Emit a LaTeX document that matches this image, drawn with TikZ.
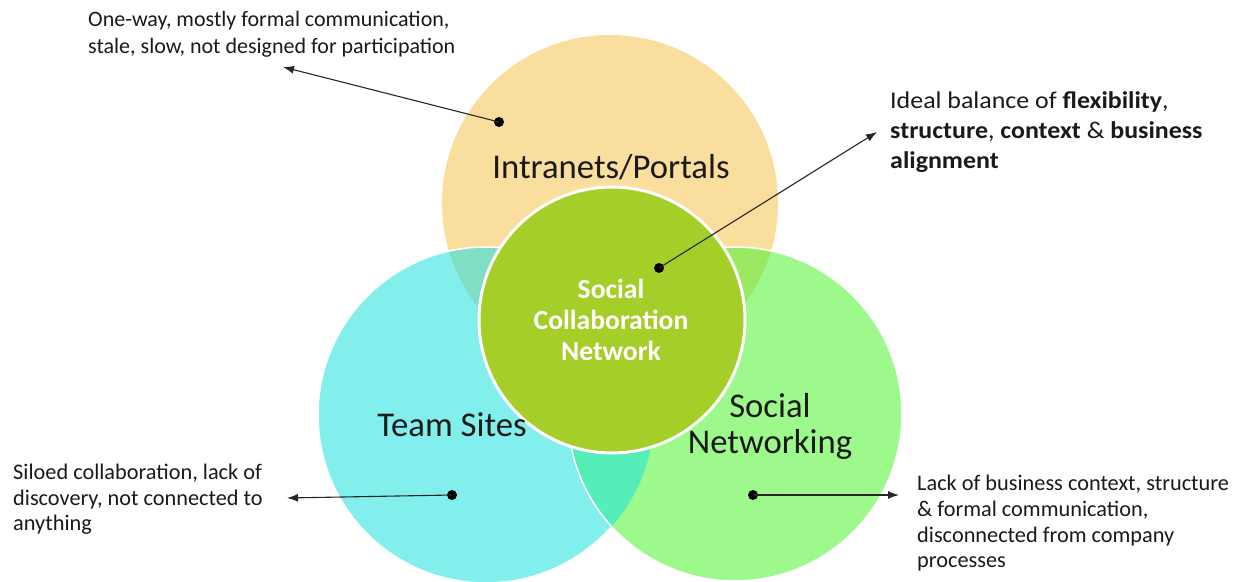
\documentclass[tikz,border=0pt]{standalone}
\usepackage{fontspec}
\setmainfont{Carlito}
\newfontfamily\widefont[FakeStretch=1.08]{Carlito}
\usetikzlibrary{arrows.meta}
\definecolor{orangec}{HTML}{FADE9E}
\definecolor{tealc}{HTML}{82EFEC}
\definecolor{greenc}{HTML}{9EF98D}
\definecolor{otc}{HTML}{7FDEC4}
\definecolor{ogc}{HTML}{9BE862}
\definecolor{tgc}{HTML}{55EDB8}
\definecolor{centerc}{HTML}{A6CE28}
\definecolor{txt}{HTML}{1A1A1A}
\begin{document}
\begin{tikzpicture}[x=1pt,y=-1pt,
  lbl/.style={anchor=north west, inner sep=0pt, align=left, text=txt},
  big/.style={inner sep=0pt, align=center, font=\fontsize{34.7}{36}\selectfont, text=txt},
  dot/.style={circle, fill=black, inner sep=0pt, minimum size=10pt},
  arr/.style={-{Latex[length=11pt,width=8pt]}, line width=1.1pt, draw=black!85},
  rim/.style={draw=white, line width=1.5pt}
]
\useasboundingbox (0,0) rectangle (1239,581);
\fill[white] (0,0) rectangle (1239,581);
% circles
\fill[orangec] (610,203) circle (168pt);
\fill[tealc] (486,415) circle (168pt);
\begin{scope}\clip (610,203) circle (168pt); \fill[otc] (486,415) circle (168pt); \end{scope}
\path[rim] (486,415) circle (168pt);
\fill[greenc] (735,414) circle (167pt);
\begin{scope}\clip (610,203) circle (168pt); \fill[ogc] (735,414) circle (167pt); \end{scope}
\begin{scope}\clip (486,415) circle (168pt); \fill[tgc] (735,414) circle (167pt); \end{scope}
\path[rim] (735,414) circle (167pt);
\fill[centerc, draw=white, line width=3pt] (612,320) circle (133pt);
% circle labels
\node[big] (ip) at (611,167) {Intranets/Portals};
\node[big] (ts) at (452,425) {Team Sites};
\node[big] (sn) at (770,426) {Social\\Networking};
\node[font=\bfseries\fontsize{27.6}{31}\selectfont, text=white, align=center, inner sep=0pt] (scn) at (611,320) {Social\\Collaboration\\Network};
% side labels
\node[lbl, font=\fontsize{22}{27.5}\selectfont] (l1) at (88,11) {One-way, mostly formal communication,\\stale, slow, not designed for participation};
\node[lbl, font=\widefont\fontsize{24}{30.3}\selectfont] (l2) at (890,91) {Ideal balance of \textbf{flexibility},\\\textbf{structure}, \textbf{context} \& \textbf{business}\\\textbf{alignment}};
\node[lbl, font=\fontsize{22.3}{25.5}\selectfont] (l3) at (13,464) {Siloed collaboration, lack of\\discovery, not connected to\\anything};
\node[lbl, font=\fontsize{22.3}{25.7}\selectfont] (l4) at (917,475) {Lack of business context, structure\\\& formal communication,\\disconnected from company\\processes};
% dots and arrows
\node[dot] (d1) at (499,122) {};
\node[dot] (d2) at (659,268) {};
\node[dot] (d3) at (452,495) {};
\node[dot] (d4) at (753,495) {};
\coordinate (t1) at (283,67);
\coordinate (t2) at (877,132);
\coordinate (t3) at (287,498);
\coordinate (t4) at (899,495);
\draw[arr] (d1.center) -- (t1);
\draw[arr] (d2.center) -- (t2);
\draw[arr] (d3.center) -- (t3);
\draw[arr] (d4.center) -- (t4);
\end{tikzpicture}
\end{document}
